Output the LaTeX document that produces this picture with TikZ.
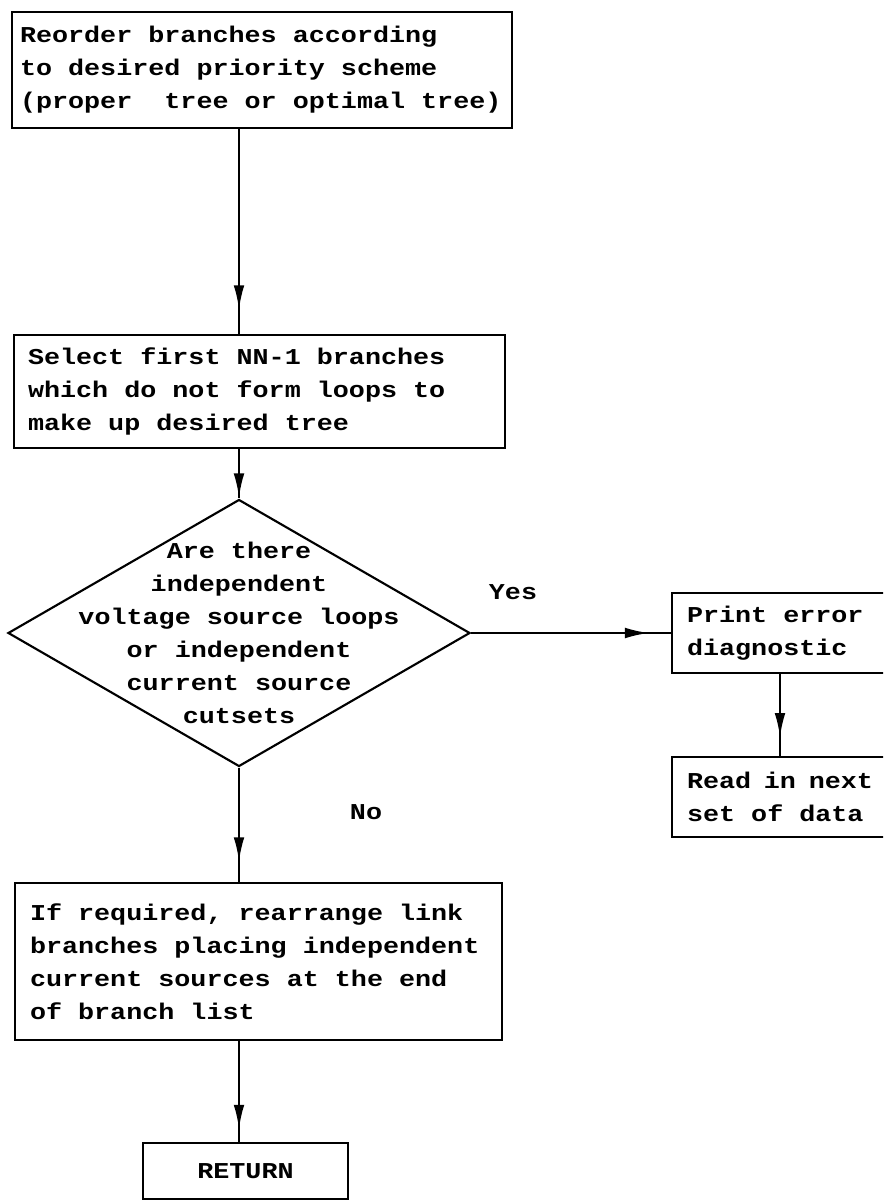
\documentclass[tikz,border=0pt]{standalone}
\usepackage{fontspec}
\newfontfamily\typefont[FakeStretch=1.18]{Liberation Mono}
\usepackage{tikz}
\usetikzlibrary{shapes.geometric}
\usetikzlibrary{decorations.markings}
\usetikzlibrary{arrows.meta}

\tikzset{arrowat/.style={decoration={markings,
  mark=at position #1 with {\arrow{Latex[length=18pt,width=8pt]}}},
  postaction={decorate}}}

\begin{document}
\begin{tikzpicture}[x=0.75pt, y=-0.75pt,
  font=\typefont\bfseries\fontsize{17}{24.75}\selectfont]

\tikzstyle{block}=[rectangle, draw, line width=1.6pt, align=left,
  inner ysep=0pt, execute at begin node={\spaceskip=0pt\xspaceskip=0pt}]
\tikzstyle{decision}=[diamond, draw, line width=1.6pt, inner sep=0pt]
\tikzstyle{flow}=[line width=1.6pt]
\tikzstyle{answer}=[inner sep=0pt]

\useasboundingbox (0,0) rectangle (883,1201);
\clip (0,0) rectangle (883,1201);

\node[block, minimum width=375pt, minimum height=87pt, inner xsep=6pt,
  text width=363pt] (reorder) at (262,70) {
  Reorder branches according\\
  to desired priority scheme\\
  (proper\ \ tree or optimal tree)};

\node[block, minimum width=368.25pt, minimum height=84.75pt,
  inner xsep=10.5pt, text width=347.25pt] (select) at (259.5,391.5) {
  Select first NN-1 branches\\
  which do not form loops to\\
  make up desired tree};

\node[decision, minimum width=346.5pt, minimum height=200.25pt] (q)
  at (239,633) {};
\node[answer, align=center] (qtext) at (q.center) {
  Are there\\
  independent\\
  voltage source loops\\
  or independent\\
  current source\\
  cutsets};
\draw[flow, arrowat=0.88] (reorder.south -| q) -- (select.north -| q);
\draw[flow, arrowat=0.98] (select.south -| q) -- (q.north);

\node[block, minimum width=162pt, minimum height=60pt, inner xsep=11.25pt,
  text width=139.5pt] (print) at (780,633) {
  Print error\\
  diagnostic};
\draw[flow, arrowat=0.89] (q.east) -- (print.west);
\node[answer] (yes) at (513,592) {Yes};

\node[block, minimum width=162pt, minimum height=60pt, inner xsep=11.25pt,
  text width=139.5pt] (read) at (780,797) {
  Read in next\\
  set of data};
\draw[flow, arrowat=0.77] (print.south) -- (read.north);

\node[block, minimum width=365.25pt, minimum height=117.75pt,
  inner xsep=11.25pt, text width=342.75pt] (ifreq) at (258.5,961.5) {
  If required, rearrange link\\
  branches placing independent\\
  current sources at the end\\
  of branch list};
\draw[flow, arrowat=0.82] (q.south) -- (ifreq.north -| q);
\node[answer] (no) at (366,812) {No};

\node[block, minimum width=153.75pt, minimum height=42pt] (ret)
  at (245.5,1171) {RETURN};
\draw[flow, arrowat=0.87] (ifreq.south -| q) -- (ret.north -| q);

\end{tikzpicture}
\end{document}
